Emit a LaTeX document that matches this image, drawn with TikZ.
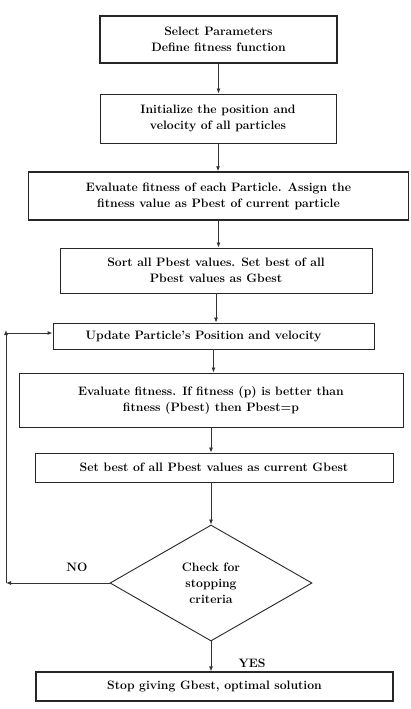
\documentclass[tikz,border=0pt]{standalone}
\usetikzlibrary{shapes.geometric,arrows.meta}
\tikzset{
  box/.style={draw=black!85, line width=0.9pt, align=center, inner sep=2pt,
    font=\fontsize{12.2}{16}\selectfont\bfseries},
  arr/.style={draw=black!80, line width=0.8pt, -{Latex[length=5pt,width=4pt]}}
}
\begin{document}
\begin{tikzpicture}[x=1pt,y=-1pt]
\useasboundingbox (0,0) rectangle (411,709);
\node[box, line width=1.2pt, minimum width=237pt, minimum height=47pt] (sel) at (218.5,39.5) {Select Parameters\\Define fitness function};
\node[box, minimum width=236pt, minimum height=49pt] (init) at (218,118.5) {Initialize the position and\\velocity of all particles};
\node[box, line width=1.5pt, minimum width=380pt, minimum height=48pt] (eval) at (218.5,196) {Evaluate fitness of each Particle. Assign the\\fitness value as Pbest of current particle};
\node[box, minimum width=312pt, minimum height=45pt] (sort) at (216,270.5) {Sort all Pbest values. Set best of all\\Pbest values as Gbest};
\node[box, minimum width=321pt, minimum height=26pt] (upd) at (213.5,336) {\hspace*{-20pt}Update Particle's Position and velocity};
\node[box, minimum width=384pt, minimum height=54pt] (fit) at (211,400) {Evaluate fitness. If fitness (p) is better than\\fitness (Pbest) then Pbest=p};
\node[box, minimum width=358pt, minimum height=29pt] (gb) at (214,467.5) {Set best of all Pbest values as current Gbest};
\node[box, diamond, minimum width=202pt, minimum height=116pt, inner sep=0pt] (chk) at (211,583) {Check for\\stopping\\criteria};
\node[box, line width=1.3pt, minimum width=357pt, minimum height=29pt] (stop) at (214.5,686.5) {Stop giving Gbest, optimal solution};

\draw[arr] (sel.south) -- (sel.south |- init.north);
\draw[arr] (init.south) -- (init.south |- eval.north);
\draw[arr] (eval.south) -- (eval.south |- sort.north);
\draw[arr] (sort.south) -- (sort.south |- upd.north);
\draw[arr] (upd.south) -- (upd.south |- fit.north);
\draw[arr] (fit.south) -- (fit.south |- gb.north);
\draw[arr] (gb.south -| chk.north) -- (chk.north);
\draw[arr] (chk.south) -- (chk.south |- stop.north);

\coordinate (lb) at (6,583);
\coordinate (lt) at (6,330);
\coordinate (lh) at (6,333);
\draw[arr, line width=1pt] (chk.west) -- (lb);
\draw[arr, line width=1pt] (lb) -- (lt);
\draw[arr, line width=1pt] (lh) -- (lh -| upd.west);

\node[font=\fontsize{12.2}{14}\selectfont\bfseries] (no) at (77,567) {NO};
\node[font=\fontsize{12.2}{14}\selectfont\bfseries] (yes) at (252,663) {YES};
\end{tikzpicture}
\end{document}
